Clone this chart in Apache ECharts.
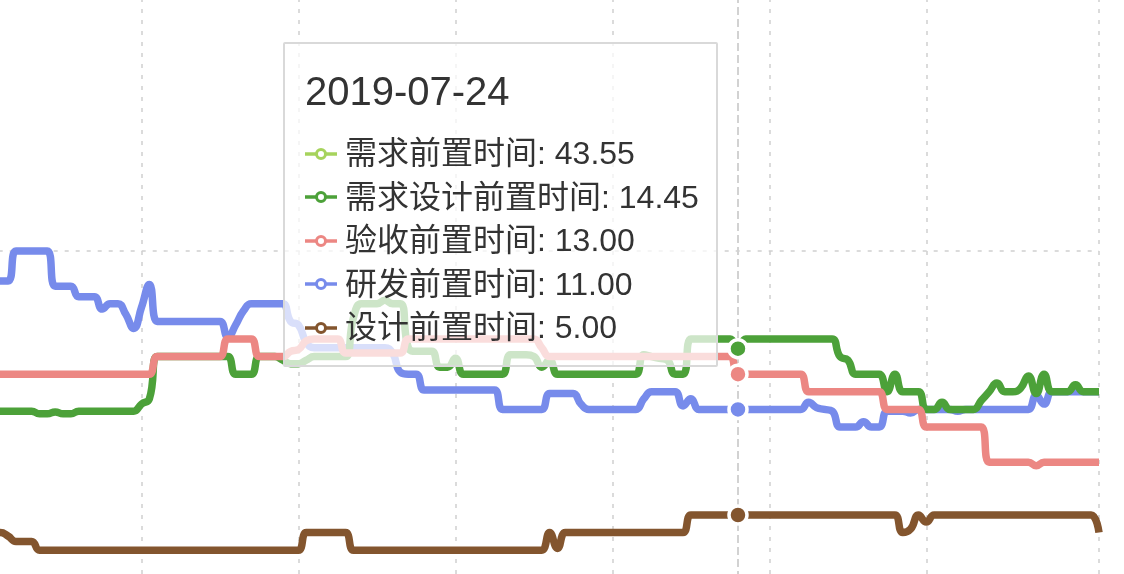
<!DOCTYPE html>
<html>
<head>
<meta charset="utf-8">
<script src="https://cdn.jsdelivr.net/npm/echarts@6/dist/echarts.min.js"></script>
<style>
html,body{margin:0;padding:0;background:#fff;}
#main{width:1124px;height:574px;}
</style>
</head>
<body>
<div id="main"></div>
<script>
// ---- data ----
const startDate = '2019-04-18';
const splitDates = ['2019-05-09','2019-05-29','2019-06-18','2019-07-08','2019-07-28','2019-08-17','2019-09-08'];
const focusDate = '2019-07-24';

const demandLead = [
 46.2,46.2,46.2,46.2,46.2,46.2,46.2,46.2,46.2,46.2,
 46.0,46.0,46.0,46.0,46.0,46.0,46.0,46.0,46.0,46.0,
 45.6,45.6,45.6,45.6,45.6,45.6,45.6,45.6,45.6,45.6,
 45.3,45.3,45.3,45.3,45.3,45.3,45.3,45.3,45.3,45.3,
 45.0,45.0,45.0,45.0,45.0,45.0,45.0,45.0,45.0,45.0,
 44.8,44.8,44.8,44.8,44.8,44.8,44.8,44.8,44.8,44.8,
 44.5,44.5,44.5,44.5,44.5,44.5,44.5,44.5,44.5,44.5,
 44.2,44.2,44.2,44.2,44.2,44.2,44.2,44.2,44.2,44.2,
 44.0,44.0,44.0,44.0,44.0,44.0,44.0,44.0,44.0,44.0,
 43.8,43.8,43.8,43.8,43.8,43.8,43.8,
 43.55,
 43.4,43.4,43.4,43.4,43.4,43.4,43.4,43.4,43.4,43.4,
 43.2,43.2,43.2,43.2,43.2,43.2,43.2,43.2,43.2,43.2,43.2,43.2,
 43.0,43.0,43.0,43.0,43.0,43.0,43.0,43.0,43.0,43.0,43.0,43.0,
 42.8,42.8,42.8,42.8,42.8,42.8,42.8,42.8,42.8,42.8,42.8,42.8
];

const demandDesignLead = [
 10.9,10.9,10.9,10.9,10.9,10.9,10.9,10.9,
 10.75,10.75,10.85,10.75,10.75,
 10.9,10.9,10.9,10.9,10.9,10.9,10.9,10.9,
 11.3,11.6,
 14,14,14,14,14,14,14,14,14,14,
 13,13,13,
 14,14,14,
 13.8,13.6,13.6,13.8,
 14,14,14,14,14,
 16.2,
 17,17,17,17.2,17,17,
 14.5,
 14.3,14.3,14.3,
 13.4,13.4,13.9,
 13,13,13,13,13,13,
 14.1,14.1,14.1,
 14,13.4,13.8,
 13,13,13,13,13,13,13,13,13,13,13,
 14.1,14,13.9,13.8,
 13,13,
 15,15,15,15,15,15,
 14.45,
 15,15,15,15,15,15,15,15,15,15,15,15,
 14,13.8,
 13,13,13,13,
 12,13,
 12,12,12,
 11,11,11.4,
 11,11,11,11,
 11.5,12,12.5,12,12,12.2,12.9,11.9,13,
 12,12,12,
 12.4,
 12,12,12
];

const acceptLead = [
 13,13,13,13,13,13,13,13,13,13,13,13,13,13,13,13,13,13,13,13,13,13,13,
 14,14,14,14,14,14,14,14,14,
 15,15,15,15,
 14,14,14,14,
 14.3,14.4,
 14.9,
 15,15,15,15,
 14.2,14.2,14.2,14.2,14.2,14.2,14.2,14.2,
 15,15,15,15,15,15,15,15,15,15,15,15,15,15,15,15,15,
 14.5,
 14,14,14,14,14,14,14,14,14,14,14,14,14,14,14,14,14,14,14,14,14,14,14,14,
 13,13,13,13,13,13,13,13,13,
 12,12,12,12,12,12,12,12,12,12,
 11,11,11,11,11,
 10,10,10,10,10,10,10,10,
 8,8,8,8,8,8,
 7.8,
 8,8,8,8,8,8,8,8
];

const devLead = [
 18.3,18.3,18.3,18.3,18.3,
 20,20,20,20,20,
 18,18,18,
 17.4,17.4,17.4,
 16.7,17,17,16.4,15.6,16.8,18.1,
 16,16,16,16,16,16,16,16,16,
 15.1,15.8,16.6,
 17,17,17,17,17,
 16,15.8,14.8,
 14.5,14.5,14.5,14.5,14.5,14.5,14.5,14.5,14.5,14.5,
 14.2,13.1,13,13,
 12.1,12.1,12.1,12.1,12.1,12.1,12.1,12.1,12.1,12.1,
 11,11,11,11,11,11,
 11.9,11.9,11.9,11.9,
 11.3,
 11,11,11,11,11,11,11,
 11.6,
 12,12,12,12,
 11.2,11.6,
 11,11,11,11,11,11,11,11,11,11,11,11,11,11,
 11.4,11.1,11,10.9,
 10,10,10,10.3,10,10,
 10.9,10.9,10.9,10.8,
 11,11,11,11,11,
 10.9,
 11,11,11,11,11,11,11,11,11,
 11.8,11.3,
 12,12,12,12,12,12,12
];

const designLead = [
 4,4,4,4,
 3.8,
 3.5,3.5,3.5,
 3,3,3,3,3,3,3,3,3,3,3,3,3,3,3,3,3,3,3,3,3,3,3,3,3,3,3,3,3,3,3,3,3,3,
 4,4,4,4,4,4,
 3,3,3,3,3,3,3,3,3,3,3,3,3,3,3,3,3,3,3,3,3,3,3,3,3,
 4,3.1,
 4,4,4,4,4,4,4,4,4,4,4,4,4,4,4,4,
 5,5,5,5,5,5,5,5,5,5,5,5,5,5,5,5,5,5,5,5,5,5,5,5,5,5,5,
 4,4.2,5,4.6,
 5,5,5,5,5,5,5,5,5,5,5,5,5,5,5,5,5,5,5,5,5,
 4
];

// category dates (one per day)
const dates = [];
(function(){
  const d0 = new Date(startDate + 'T00:00:00Z');
  for (let i = 0; i < devLead.length; i++) {
    const d = new Date(d0.getTime() + i * 86400000);
    dates.push(d.toISOString().slice(0, 10));
  }
})();
const focusIndex = dates.indexOf(focusDate);

const colors = {
  '需求前置时间': '#a6d35c',
  '需求设计前置时间': '#4ca139',
  '验收前置时间': '#ec8783',
  '研发前置时间': '#778beb',
  '设计前置时间': '#83552e'
};

const chart = echarts.init(document.getElementById('main'));

const lineSeries = [
  ['研发前置时间', devLead],
  ['需求设计前置时间', demandDesignLead],
  ['验收前置时间', acceptLead],
  ['设计前置时间', designLead],
  ['需求前置时间', demandLead]
].map(function (d) {
  return {
    name: d[0],
    type: 'line',
    data: d[1],
    smooth: true,
    showSymbol: false,
    symbol: 'none',
    z: 2,
    lineStyle: { width: 7.5, color: colors[d[0]] },
    itemStyle: { color: colors[d[0]] },
    emphasis: { disabled: true }
  };
});

// hovered point of each line: filled dot with a white ring (not in tooltip)
const dotSeries = lineSeries.map(function (s) {
  return {
    name: s.name + '-dot',
    type: 'scatter',
    data: [[focusDate, s.data[focusIndex]]],
    symbol: 'circle',
    symbolSize: 18,
    silent: true,
    z: 5,
    tooltip: { show: false },
    itemStyle: { color: colors[s.name], borderColor: '#ffffff', borderWidth: 3.5, opacity: 1 },
    emphasis: { disabled: true }
  };
});

function icon(c) {
  return '<svg width="32" height="14" style="margin-right:8px;flex:none">' +
    '<line x1="0" y1="7" x2="32" y2="7" stroke="' + c + '" stroke-width="3.5"/>' +
    '<circle cx="16" cy="7" r="4.5" fill="#fff" stroke="' + c + '" stroke-width="3"/></svg>';
}

const gridDash = { color: '#cfcfcf', width: 1.5, type: [4, 7] };

chart.setOption({
  animation: false,
  grid: { left: -23.3, right: 25, top: -453, bottom: -29, containLabel: false, outerBoundsMode: 'none' },
  tooltip: {
    trigger: 'axis',
    alwaysShowContent: true,
    transitionDuration: 0,
    showDelay: 0,
    position: [283, 42],
    padding: [23, 20, 15, 20],
    backgroundColor: 'rgba(255,255,255,0.72)',
    borderColor: '#d9d9d9',
    borderWidth: 2,
    extraCssText: 'box-shadow:none;border-radius:2px;',
    axisPointer: { type: 'line', z: 1, lineStyle: { color: '#d2d2d2', width: 2 } },
    formatter: function (params) {
      const rows = params.filter(function (p) { return p.seriesType === 'line'; })
        .sort(function (a, b) { return b.value - a.value; });
      let html = '<div style="width:391px;font-family:\'Liberation Sans\',\'Noto Sans CJK SC\',sans-serif;color:#333;">';
      html += '<div style="font-size:40px;line-height:48px;height:48px;margin-bottom:17px;">' + params[0].axisValue + '</div>';
      rows.forEach(function (p) {
        html += '<div style="display:flex;align-items:center;height:43.5px;font-size:32px;line-height:43.5px;">' +
          icon(colors[p.seriesName]) + '<span>' + p.seriesName + ': ' + Number(p.value).toFixed(2) + '</span></div>';
      });
      html += '</div>';
      return html;
    }
  },
  xAxis: {
    type: 'category',
    boundaryGap: false,
    data: dates,
    axisLine: { show: false },
    axisTick: { show: false },
    axisLabel: { show: false },
    axisPointer: { z: 1 },
    splitLine: {
      show: true,
      interval: function (index, value) { return splitDates.indexOf(value) >= 0; },
      lineStyle: gridDash
    }
  },
  yAxis: {
    type: 'value',
    min: 0,
    max: 60,
    interval: 20,
    axisLine: { show: false },
    axisTick: { show: false },
    axisLabel: { show: false },
    splitLine: { show: true, lineStyle: gridDash }
  },
  series: lineSeries.concat(dotSeries)
});

chart.dispatchAction({ type: 'showTip', seriesIndex: 0, dataIndex: focusIndex });
</script>
</body>
</html>
